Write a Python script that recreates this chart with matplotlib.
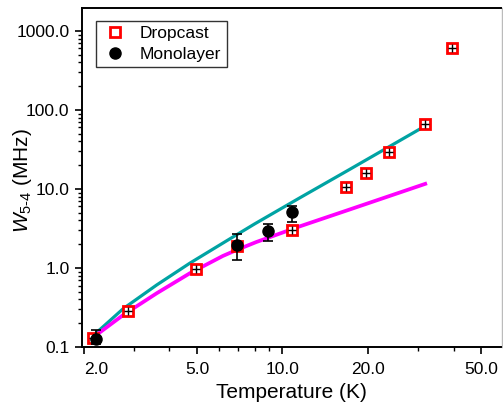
import numpy as np
import matplotlib
matplotlib.use('Agg')
import matplotlib.pyplot as plt
from matplotlib.lines import Line2D
from matplotlib.ticker import FixedLocator, FormatStrFormatter, NullFormatter

plt.rcParams['font.family'] = ['Liberation Sans', 'DejaVu Sans']
plt.rcParams['mathtext.fontset'] = 'custom'
plt.rcParams['mathtext.rm'] = 'Liberation Sans'
plt.rcParams['mathtext.it'] = 'Liberation Sans:italic'

# dropcast data (red squares)
drop_T = [2.15, 2.86, 4.95, 6.9, 10.8, 16.8, 19.7, 23.7, 31.8, 39.4]
drop_W = [0.13, 0.286, 0.98, 1.9, 3.0, 10.6, 16.0, 29.4, 66.5, 610.0]

# monolayer data (black circles) with error bars
mono_T = [2.2, 6.9, 8.86, 10.8]
mono_W = [0.126, 1.96, 2.94, 5.1]
mono_lo = [0.11, 1.26, 2.2, 3.8]
mono_hi = [0.165, 2.7, 3.6, 6.1]

# fit curves
cyan_T = [2.16, 2.75, 3.61, 4.72, 6.43, 7.98, 11.47, 17.2, 31.5]
cyan_W = [0.14, 0.305, 0.61, 1.15, 2.26, 3.61, 7.67, 17.6, 61.5]
mag_T = [2.16, 2.75, 3.61, 4.72, 6.17, 6.9, 8.09, 11.47, 17.2, 31.8]
mag_W = [0.133, 0.254, 0.479, 0.857, 1.42, 1.69, 2.13, 3.35, 5.48, 11.6]

fig = plt.figure(figsize=(5.03, 4.07), dpi=100)
ax = fig.add_axes([82/503, 1-347/407, 419.5/503, 339/407])

ax.plot(cyan_T, cyan_W, color='#00a3a3', lw=2.3, zorder=2,
        solid_joinstyle='round')
ax.plot(mag_T, mag_W, color='#ff00ff', lw=2.7, zorder=2,
        solid_joinstyle='round')

ax.plot(drop_T, drop_W, 's', ms=7, mfc='white', mec='#ff0000', mew=2,
        zorder=3)
ax.plot(drop_T, drop_W, '+', ms=6, color='black', mew=1, zorder=4)

mono_W = np.array(mono_W)
yerr = [mono_W - np.array(mono_lo), np.array(mono_hi) - mono_W]
ax.errorbar(mono_T, mono_W, yerr=yerr, fmt='o', ms=8, color='black',
            ecolor='black', elinewidth=1.2, capsize=3.5, capthick=1.2,
            zorder=5)

ax.set_xscale('log')
ax.set_yscale('log')
ax.set_xlim(1.97, 59)
ax.set_ylim(0.1, 1950)

ax.xaxis.set_major_locator(FixedLocator([2, 5, 10, 20, 50]))
ax.xaxis.set_major_formatter(FormatStrFormatter('%.1f'))
ax.xaxis.set_minor_locator(FixedLocator([3, 4, 6, 7, 8, 9, 30, 40]))
ax.xaxis.set_minor_formatter(NullFormatter())
ax.yaxis.set_major_locator(FixedLocator([0.1, 1, 10, 100, 1000]))
ax.yaxis.set_major_formatter(FormatStrFormatter('%.1f'))
ax.yaxis.set_minor_locator(FixedLocator(
    [m * 10.0**e for e in range(-1, 4) for m in range(2, 10)]))
ax.yaxis.set_minor_formatter(NullFormatter())

ax.tick_params(which='major', direction='out', length=5, width=1.2,
               labelsize=12.5, pad=6)
ax.tick_params(which='minor', direction='out', length=3, width=1)
ax.tick_params(axis='y', which='major', pad=4)
for lab in ax.get_xticklabels():
    if lab.get_text() == '2.0':
        lab.set_ha('left')

for s in ['left', 'bottom', 'top']:
    ax.spines[s].set_linewidth(1.4)
ax.spines['right'].set_linewidth(1.0)
ax.spines['right'].set_color('#bbbbbb')

ax.set_xlabel('Temperature (K)', fontsize=15)
ax.set_ylabel(r'$W_{5\text{-}4}$ (MHz)', fontsize=15)
ax.yaxis.set_label_coords(-0.115, 0.49)

handles = [
    Line2D([], [], ls='none', marker='s', ms=7, mfc='white', mec='#ff0000', mew=2),
    Line2D([], [], ls='none', marker='o', ms=8, color='black'),
]
leg = ax.legend(handles, ['Dropcast', 'Monolayer'], loc='upper left',
                bbox_to_anchor=(0.033, 0.962), fontsize=12.5,
                frameon=True, fancybox=False, edgecolor='black',
                handlelength=1.6, handletextpad=0.65, borderpad=0.3,
                labelspacing=0.3, borderaxespad=0)
leg.get_frame().set_linewidth(1.0)

fig.savefig('out.png', dpi=100)
